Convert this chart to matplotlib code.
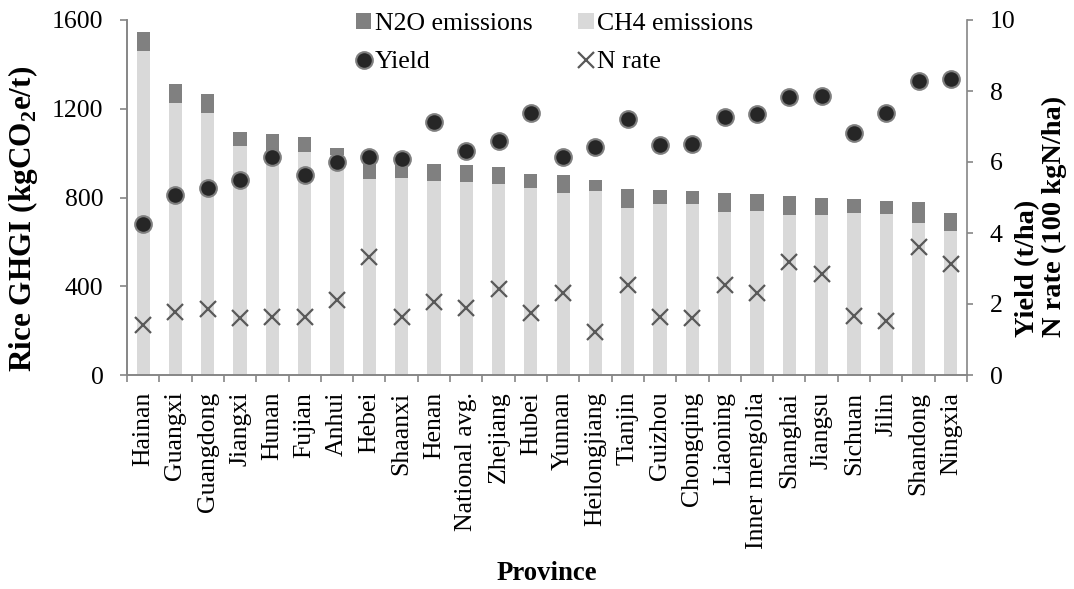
import matplotlib
matplotlib.use("Agg")
import matplotlib.pyplot as plt
import numpy as np
from matplotlib.lines import Line2D
from matplotlib.patches import Patch

plt.rcParams['font.family'] = ['Liberation Serif', 'DejaVu Serif']
plt.rcParams['mathtext.fontset'] = 'custom'
plt.rcParams['mathtext.rm'] = 'Liberation Serif'
plt.rcParams['mathtext.bf'] = 'Liberation Serif:bold'

provinces = ['Hainan', 'Guangxi', 'Guangdong', 'Jiangxi', 'Hunan', 'Fujian', 'Anhui',
             'Hebei', 'Shaanxi', 'Henan', 'National avg.', 'Zhejiang', 'Hubei', 'Yunnan',
             'Heilongjiang', 'Tianjin', 'Guizhou', 'Chongqing', 'Liaoning', 'Inner mengolia',
             'Shanghai', 'Jiangsu', 'Sichuan', 'Jilin', 'Shandong', 'Ningxia']
ch4 = [1462, 1227, 1181, 1034, 1005, 1006, 991, 882, 890, 874, 871, 859, 844, 819,
       831, 754, 772, 769, 736, 737, 721, 721, 729, 725, 684, 650]
n2o = [85, 83, 85, 61, 81, 65, 31, 78, 55, 77, 75, 77, 61, 82,
       48, 84, 60, 59, 83, 77, 86, 75, 63, 59, 96, 81]
yield_t = [4.25, 5.07, 5.28, 5.48, 6.15, 5.63, 5.99, 6.15, 6.08, 7.14, 6.32, 6.60, 7.37, 6.13,
           6.41, 7.21, 6.48, 6.51, 7.28, 7.34, 7.84, 7.87, 6.83, 7.37, 8.28, 8.35]
n_rate = [1.41, 1.78, 1.85, 1.61, 1.64, 1.64, 2.11, 3.33, 1.64, 2.07, 1.88, 2.41, 1.74, 2.30,
          1.22, 2.54, 1.64, 1.60, 2.54, 2.32, 3.19, 2.85, 1.66, 1.52, 3.61, 3.12]

W, H = 1074, 589
fs = 18.5
axis_col = '#868686'

fig = plt.figure(figsize=(W / 100, H / 100), dpi=100)
ax = fig.add_axes([127 / W, 1 - 375 / H, 840 / W, 355 / H])
ax2 = ax.twinx()

x = np.arange(len(provinces))
ax.bar(x, ch4, width=0.41, color='#d9d9d9', zorder=2)
ax.bar(x, n2o, width=0.41, bottom=ch4, color='#808080', zorder=2)

ax2.plot(x, yield_t, linestyle='none', marker='o', markersize=12,
         markerfacecolor='#262626', markeredgecolor='#7f7f7f', markeredgewidth=1.5)
ax2.plot(x, n_rate, linestyle='none', marker='x', markersize=12,
         color='#595959', markeredgewidth=1.6)

ax.set_xlim(-0.5, len(provinces) - 0.5)
ax.set_ylim(0, 1600)
ax.set_yticks([0, 400, 800, 1200, 1600])
ax2.set_ylim(0, 10)
ax2.set_yticks([0, 2, 4, 6, 8, 10])

ax.set_xticks(x)
ax.set_xticklabels(provinces, rotation=90, fontsize=fs)
ax.set_xticks(np.arange(-0.5, len(provinces)), minor=True)
ax.tick_params(axis='x', which='major', length=0, pad=12)
ax.tick_params(axis='x', which='minor', length=5, color=axis_col, width=1.2, direction='out')
ax.tick_params(axis='y', length=5, color=axis_col, width=1.2, pad=12, labelsize=fs)
ax2.tick_params(axis='y', length=4.5, color=axis_col, width=1.2, pad=12, labelsize=fs)

for a in (ax, ax2):
    a.spines['top'].set_visible(False)
    for s in ('left', 'right', 'bottom'):
        a.spines[s].set_color(axis_col)
        a.spines[s].set_linewidth(1.2)
ax.spines['right'].set_visible(False)

fig.text(23 / W, 1 - 219 / H, r'Rice GHGI (kgCO$_{\mathbf{2}}$e/t)', rotation=90,
         ha='center', va='center', fontsize=22.5, fontweight='bold')
fig.text(1041 / W, 1 - 216 / H, 'Yield (t/ha)\nN rate (100 kgN/ha)', rotation=90,
         ha='center', va='center', multialignment='left', linespacing=1.05,
         fontsize=20.5, fontweight='bold')
fig.text(547 / W, 1 - 574 / H, 'Province', ha='center', va='center',
         fontsize=19.3, fontweight='bold')

handles = [Patch(facecolor='#808080', label='N2O emissions'),
           Line2D([], [], linestyle='none', marker='o', markersize=12, markerfacecolor='#262626',
                  markeredgecolor='#7f7f7f', markeredgewidth=1.5, label='Yield'),
           Patch(facecolor='#d9d9d9', label='CH4 emissions'),
           Line2D([], [], linestyle='none', marker='x', markersize=12, color='#595959',
                  markeredgewidth=1.6, label='N rate')]
fig.legend(handles=handles, ncol=2, loc='upper left', bbox_to_anchor=(343 / W, 1 - 0 / H),
           frameon=False, fontsize=fs, handlelength=0.6, handleheight=0.6,
           handletextpad=0.15, columnspacing=1.77, labelspacing=0.62, borderpad=0)

fig.savefig('out.png', dpi=100)
